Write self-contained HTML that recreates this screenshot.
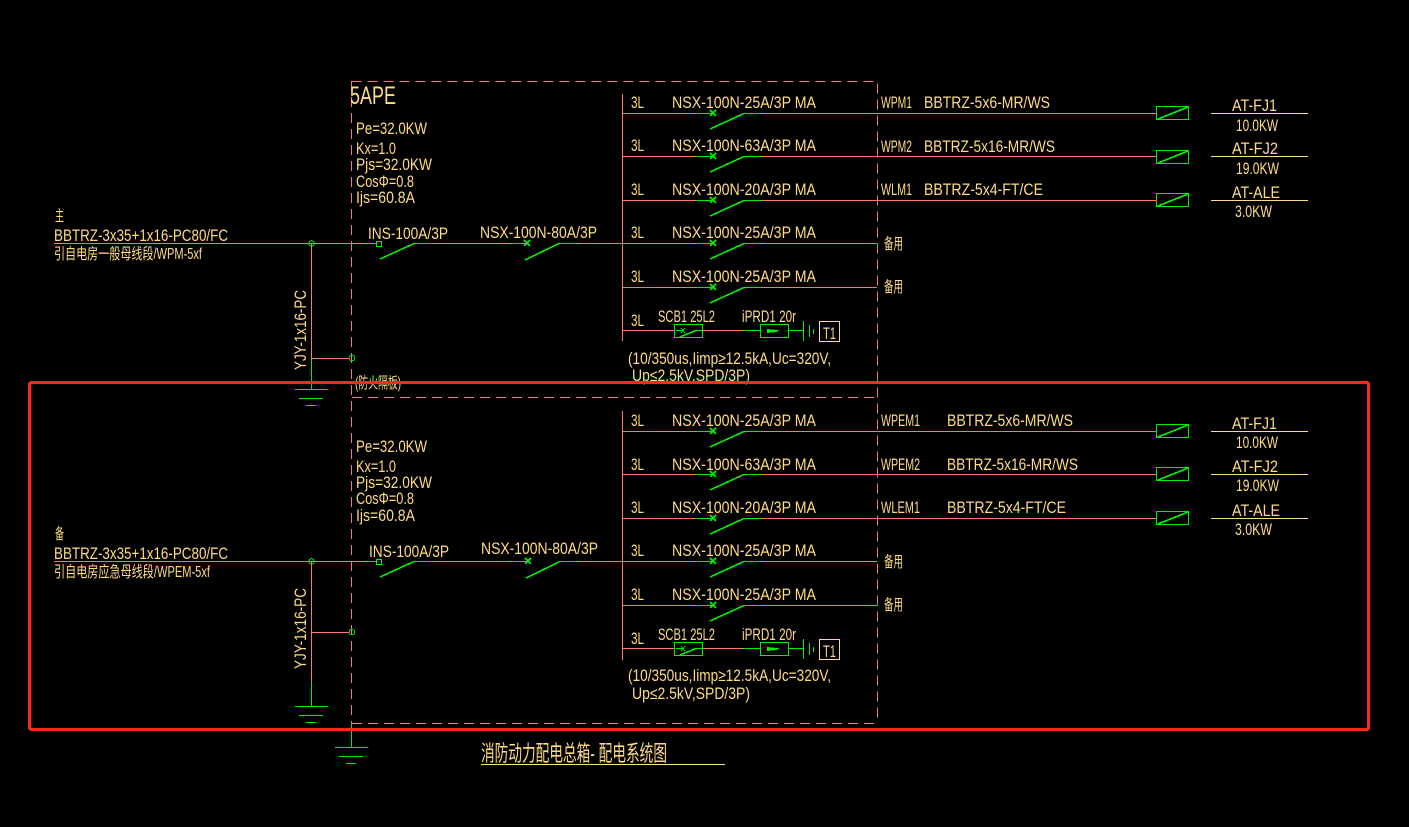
<!DOCTYPE html>
<html><head><meta charset="utf-8"><style>
html,body{margin:0;padding:0;background:#000;width:1409px;height:827px;overflow:hidden}
svg{display:block}
text{font-family:"Liberation Sans Narrow","Liberation Sans","Noto Sans CJK SC",sans-serif;fill:#ffdb84;font-size:16.5px}
.p{stroke:#ff7878;stroke-width:1;fill:none}
.pd{stroke:#f5788a;stroke-width:1;fill:none;stroke-dasharray:10 6}
.g{stroke:#00f000;stroke-width:1;fill:none}
.gd{stroke:#00f000;stroke-width:1.6;fill:none}
.y{stroke:#ffdb84;stroke-width:1;fill:none}
.cn{font-size:15.5px}
</style></head><body>
<svg width="1409" height="827" viewBox="0 0 1409 827" xmlns="http://www.w3.org/2000/svg" shape-rendering="crispEdges">
<defs>
<g id="brk"><path class="g" d="M696 .5H713M744 .5H762"/><path class="gd" d="M710-3L716 3M710 3L716-3M710 16L744 .5"/></g>
<g id="lb"><rect class="g" x="1156.500" y="-6.500" width="32" height="13"/><path class="gd" d="M1158 6L1188-6"/></g>
<g id="gnd"><path class="g" d="M0 0H33M4 9H28M11 16H21"/></g>
<g id="spd">
<rect class="g" x="674.500" y="-5.500" width="28" height="13"/><path class="g" d="M676 .5H683M681-2L685 3M681 3L685-2M696 .5H702"/><path class="gd" d="M680 7L696 .5"/>
<path class="p" d="M622 .5H674M703 .5H743"/><path class="g" d="M743 .5H760M789 .5H803M803.500-9V11M809.500-5V7M813.500-1V4"/>
<rect class="g" x="760.500" y="-5.500" width="28" height="13"/><path d="M767-1L777 0V2L767 3Z" fill="#00f000"/><path class="g" d="M777 .5H779"/>
<rect class="y" x="819.500" y="-8.500" width="20" height="20"/>
</g>
</defs>
<rect width="1409" height="827" fill="#000"/>

<!-- box -->
<path class="pd" d="M351.500 81.500H877.500V723"/>
<path class="pd" d="M351.500 81V723"/>
<path class="pd" d="M352 397.500H877"/>
<path class="pd" d="M352 723.500H877"/>
<path class="g" d="M351.500 723V747"/>
<use href="#gnd" x="335" y="747.500"/>

<!-- section 1 wiring -->
<path class="p" d="M54 243.500H366M431 243.500H510M577 243.500H622M311.500 243V360M311 358.500H349M622.500 94V341"/>
<path class="g" d="M366 243.500H376M414 243.500H431M510 243.500H527M559 243.500H577M311.500 360V389"/>
<path class="gd" d="M380 259L414 243.500M524 240L530 246M524 246L530 240M525 260L559 243.500"/>
<rect class="g" x="376.500" y="241.500" width="5" height="5"/>
<circle class="g" cx="311.500" cy="243.500" r="2.800"/><circle class="g" cx="352" cy="358" r="2.800"/>
<use href="#gnd" x="295" y="389.500"/>
<path class="p" d="M622 113.500H696M762 113.500H1156M622 156.500H696M762 156.500H1156M622 200.500H696M762 200.500H1156M622 243.500H696M762 243.500H877M622 287.500H696M762 287.500H877"/>
<use href="#brk" y="113"/><use href="#brk" y="156"/><use href="#brk" y="200"/><use href="#brk" y="243"/><use href="#brk" y="287"/>
<use href="#spd" y="330"/>
<use href="#lb" y="113"/><use href="#lb" y="157"/><use href="#lb" y="200"/>
<path class="y" d="M1211 113.500H1308M1211 156.500H1308M1211 200.500H1308"/>

<!-- section 2 wiring -->
<path class="p" d="M54 561.500H366M431 561.500H511M578 561.500H622M311.500 561V682M311 632.500H349M622.500 411V660"/>
<path class="g" d="M366 561.500H376M414 561.500H431M511 561.500H528M560 561.500H578M311.500 682V706"/>
<path class="gd" d="M380 577L414 561.500M525 558L531 564M525 564L531 558M526 578L560 561.500"/>
<rect class="g" x="376.500" y="559.500" width="5" height="5"/>
<circle class="g" cx="311.500" cy="561.500" r="2.800"/><circle class="g" cx="352" cy="632" r="2.800"/>
<use href="#gnd" x="295" y="706.500"/>
<path class="p" d="M622 431.500H696M762 431.500H1156M622 474.500H696M762 474.500H1156M622 518.500H696M762 518.500H1156M622 561.500H696M762 561.500H877M622 605.500H696M762 605.500H877"/>
<use href="#brk" y="431"/><use href="#brk" y="474"/><use href="#brk" y="518"/><use href="#brk" y="561"/><use href="#brk" y="605"/>
<use href="#spd" y="648"/>
<use href="#lb" y="431"/><use href="#lb" y="474"/><use href="#lb" y="518"/>
<path class="y" d="M1211 431.500H1308M1211 474.500H1308M1211 518.500H1308M481 764.500H725"/>

<!-- section 1 text -->
<text x="350" y="104" style="font-size:25px" textLength="46" lengthAdjust="spacingAndGlyphs">5APE</text>
<text x="356" y="134" textLength="71" lengthAdjust="spacingAndGlyphs">Pe=32.0KW</text>
<text x="356" y="154" textLength="40" lengthAdjust="spacingAndGlyphs">Kx=1.0</text>
<text x="356" y="170" textLength="76" lengthAdjust="spacingAndGlyphs">Pjs=32.0KW</text>
<text x="356" y="187" textLength="58" lengthAdjust="spacingAndGlyphs">CosΦ=0.8</text>
<text x="356" y="203" textLength="59" lengthAdjust="spacingAndGlyphs">Ijs=60.8A</text>
<text x="55" y="221" class="cn" textLength="9" lengthAdjust="spacingAndGlyphs">主</text>
<text x="54" y="241" textLength="174" lengthAdjust="spacingAndGlyphs">BBTRZ-3x35+1x16-PC80/FC</text>
<text x="54" y="259" class="cn" textLength="148" lengthAdjust="spacingAndGlyphs">引自电房一般母线段/WPM-5xf</text>
<text x="368" y="239" textLength="80" lengthAdjust="spacingAndGlyphs">INS-100A/3P</text>
<text x="480" y="238" textLength="117" lengthAdjust="spacingAndGlyphs">NSX-100N-80A/3P</text>
<text transform="translate(306 370) rotate(-90)" textLength="80" lengthAdjust="spacingAndGlyphs">YJY-1x16-PC</text>
<text x="355" y="388" class="cn" textLength="46" lengthAdjust="spacingAndGlyphs">(防火隔板)</text>

<text x="631" y="108" textLength="13" lengthAdjust="spacingAndGlyphs">3L</text><text x="672" y="108" textLength="144" lengthAdjust="spacingAndGlyphs">NSX-100N-25A/3P MA</text>
<text x="631" y="151" textLength="13" lengthAdjust="spacingAndGlyphs">3L</text><text x="672" y="151" textLength="144" lengthAdjust="spacingAndGlyphs">NSX-100N-63A/3P MA</text>
<text x="631" y="195" textLength="13" lengthAdjust="spacingAndGlyphs">3L</text><text x="672" y="195" textLength="144" lengthAdjust="spacingAndGlyphs">NSX-100N-20A/3P MA</text>
<text x="631" y="238" textLength="13" lengthAdjust="spacingAndGlyphs">3L</text><text x="672" y="238" textLength="144" lengthAdjust="spacingAndGlyphs">NSX-100N-25A/3P MA</text>
<text x="631" y="282" textLength="13" lengthAdjust="spacingAndGlyphs">3L</text><text x="672" y="282" textLength="144" lengthAdjust="spacingAndGlyphs">NSX-100N-25A/3P MA</text>
<text x="631" y="326" textLength="13" lengthAdjust="spacingAndGlyphs">3L</text>
<text x="658" y="322" textLength="57" lengthAdjust="spacingAndGlyphs">SCB1 25L2</text>
<text x="742" y="322" textLength="54" lengthAdjust="spacingAndGlyphs">iPRD1 20r</text>
<text x="823" y="339" textLength="13" lengthAdjust="spacingAndGlyphs">T1</text>
<text x="628" y="364" textLength="203" lengthAdjust="spacingAndGlyphs">(10/350us,Iimp≥12.5kA,Uc=320V,</text>
<text x="632" y="381" textLength="118" lengthAdjust="spacingAndGlyphs">Up≤2.5kV,SPD/3P)</text>

<text x="881" y="108" textLength="31" lengthAdjust="spacingAndGlyphs">WPM1</text><text x="924" y="108" textLength="126" lengthAdjust="spacingAndGlyphs">BBTRZ-5x6-MR/WS</text>
<text x="881" y="152" textLength="31" lengthAdjust="spacingAndGlyphs">WPM2</text><text x="924" y="152" textLength="131" lengthAdjust="spacingAndGlyphs">BBTRZ-5x16-MR/WS</text>
<text x="881" y="195" textLength="31" lengthAdjust="spacingAndGlyphs">WLM1</text><text x="924" y="195" textLength="119" lengthAdjust="spacingAndGlyphs">BBTRZ-5x4-FT/CE</text>
<text x="884" y="249" class="cn" textLength="19" lengthAdjust="spacingAndGlyphs">备用</text>
<text x="884" y="292" class="cn" textLength="19" lengthAdjust="spacingAndGlyphs">备用</text>

<text x="1232" y="111" textLength="45" lengthAdjust="spacingAndGlyphs">AT-FJ1</text><text x="1236" y="131" textLength="42" lengthAdjust="spacingAndGlyphs">10.0KW</text>
<text x="1232" y="154" textLength="46" lengthAdjust="spacingAndGlyphs">AT-FJ2</text><text x="1236" y="174" textLength="43" lengthAdjust="spacingAndGlyphs">19.0KW</text>
<text x="1232" y="198" textLength="48" lengthAdjust="spacingAndGlyphs">AT-ALE</text><text x="1235" y="217" textLength="37" lengthAdjust="spacingAndGlyphs">3.0KW</text>

<!-- section 2 text -->
<text x="356" y="452" textLength="71" lengthAdjust="spacingAndGlyphs">Pe=32.0KW</text>
<text x="356" y="472" textLength="40" lengthAdjust="spacingAndGlyphs">Kx=1.0</text>
<text x="356" y="488" textLength="76" lengthAdjust="spacingAndGlyphs">Pjs=32.0KW</text>
<text x="356" y="504" textLength="58" lengthAdjust="spacingAndGlyphs">CosΦ=0.8</text>
<text x="356" y="521" textLength="59" lengthAdjust="spacingAndGlyphs">Ijs=60.8A</text>
<text x="55" y="539" class="cn" textLength="9" lengthAdjust="spacingAndGlyphs">备</text>
<text x="54" y="559" textLength="174" lengthAdjust="spacingAndGlyphs">BBTRZ-3x35+1x16-PC80/FC</text>
<text x="54" y="577" class="cn" textLength="156" lengthAdjust="spacingAndGlyphs">引自电房应急母线段/WPEM-5xf</text>
<text x="369" y="557" textLength="80" lengthAdjust="spacingAndGlyphs">INS-100A/3P</text>
<text x="481" y="554" textLength="117" lengthAdjust="spacingAndGlyphs">NSX-100N-80A/3P</text>
<text transform="translate(306 669) rotate(-90)" textLength="81" lengthAdjust="spacingAndGlyphs">YJY-1x16-PC</text>

<text x="631" y="426" textLength="13" lengthAdjust="spacingAndGlyphs">3L</text><text x="672" y="426" textLength="144" lengthAdjust="spacingAndGlyphs">NSX-100N-25A/3P MA</text>
<text x="631" y="470" textLength="13" lengthAdjust="spacingAndGlyphs">3L</text><text x="672" y="470" textLength="144" lengthAdjust="spacingAndGlyphs">NSX-100N-63A/3P MA</text>
<text x="631" y="513" textLength="13" lengthAdjust="spacingAndGlyphs">3L</text><text x="672" y="513" textLength="144" lengthAdjust="spacingAndGlyphs">NSX-100N-20A/3P MA</text>
<text x="631" y="556" textLength="13" lengthAdjust="spacingAndGlyphs">3L</text><text x="672" y="556" textLength="144" lengthAdjust="spacingAndGlyphs">NSX-100N-25A/3P MA</text>
<text x="631" y="600" textLength="13" lengthAdjust="spacingAndGlyphs">3L</text><text x="672" y="600" textLength="144" lengthAdjust="spacingAndGlyphs">NSX-100N-25A/3P MA</text>
<text x="631" y="644" textLength="13" lengthAdjust="spacingAndGlyphs">3L</text>
<text x="658" y="640" textLength="57" lengthAdjust="spacingAndGlyphs">SCB1 25L2</text>
<text x="742" y="640" textLength="54" lengthAdjust="spacingAndGlyphs">iPRD1 20r</text>
<text x="823" y="657" textLength="13" lengthAdjust="spacingAndGlyphs">T1</text>
<text x="628" y="681" textLength="203" lengthAdjust="spacingAndGlyphs">(10/350us,Iimp≥12.5kA,Uc=320V,</text>
<text x="632" y="699" textLength="118" lengthAdjust="spacingAndGlyphs">Up≤2.5kV,SPD/3P)</text>

<text x="881" y="426" textLength="39" lengthAdjust="spacingAndGlyphs">WPEM1</text><text x="947" y="426" textLength="126" lengthAdjust="spacingAndGlyphs">BBTRZ-5x6-MR/WS</text>
<text x="881" y="470" textLength="39" lengthAdjust="spacingAndGlyphs">WPEM2</text><text x="947" y="470" textLength="131" lengthAdjust="spacingAndGlyphs">BBTRZ-5x16-MR/WS</text>
<text x="881" y="513" textLength="39" lengthAdjust="spacingAndGlyphs">WLEM1</text><text x="947" y="513" textLength="119" lengthAdjust="spacingAndGlyphs">BBTRZ-5x4-FT/CE</text>
<text x="884" y="567" class="cn" textLength="19" lengthAdjust="spacingAndGlyphs">备用</text>
<text x="884" y="610" class="cn" textLength="19" lengthAdjust="spacingAndGlyphs">备用</text>

<text x="1232" y="429" textLength="45" lengthAdjust="spacingAndGlyphs">AT-FJ1</text><text x="1236" y="448" textLength="42" lengthAdjust="spacingAndGlyphs">10.0KW</text>
<text x="1232" y="472" textLength="46" lengthAdjust="spacingAndGlyphs">AT-FJ2</text><text x="1236" y="491" textLength="43" lengthAdjust="spacingAndGlyphs">19.0KW</text>
<text x="1232" y="516" textLength="48" lengthAdjust="spacingAndGlyphs">AT-ALE</text><text x="1235" y="535" textLength="37" lengthAdjust="spacingAndGlyphs">3.0KW</text>

<text x="481" y="761" style="font-size:22px" textLength="186" lengthAdjust="spacingAndGlyphs">消防动力配电总箱- 配电系统图</text>

<!-- red highlight -->
<rect x="29.500" y="382.500" width="1339" height="347" rx="2" fill="none" stroke="#ff2a1a" stroke-width="3"/>
</svg>
</body></html>
